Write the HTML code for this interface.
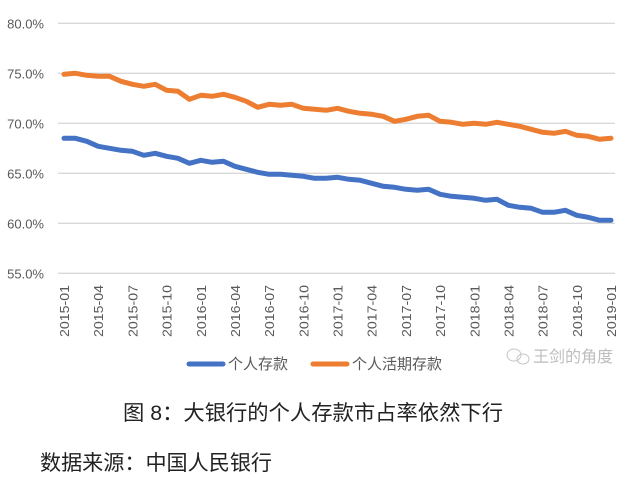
<!DOCTYPE html>
<html><head><meta charset="utf-8"><style>
html,body{margin:0;padding:0;background:#fff;}
svg{display:block;font-family:"Liberation Sans","Noto Sans CJK SC",sans-serif;}
</style></head><body>
<svg id="chart" width="636" height="481" viewBox="0 0 636 481" xmlns="http://www.w3.org/2000/svg">
<g id="grid"></g>
<g id="ylabels"></g>
<g id="xlabels"></g>
<g id="series"></g>
<g>
  <line x1="189" y1="364" x2="223" y2="364" stroke="#4472c4" stroke-width="5" stroke-linecap="round"/>
  <text x="228" y="369" font-size="15" fill="#595959">个人存款</text>
  <line x1="313" y1="364" x2="347" y2="364" stroke="#ed7d31" stroke-width="5" stroke-linecap="round"/>
  <text x="352" y="369" font-size="15" fill="#595959">个人活期存款</text>
</g>
<g opacity="0.55">
  <ellipse cx="514" cy="355" rx="7" ry="6" fill="none" stroke="#999" stroke-width="1"/>
  <ellipse cx="523" cy="359" rx="6" ry="5" fill="none" stroke="#999" stroke-width="1"/>
  <text x="533" y="362" font-size="16" fill="#888">王剑的角度</text>
</g>
<text x="123" y="420" font-size="21" fill="#222" textLength="380" lengthAdjust="spacingAndGlyphs">图 8：大银行的个人存款市占率依然下行</text>
<text x="40" y="470" font-size="21" fill="#222" textLength="232" lengthAdjust="spacingAndGlyphs">数据来源：中国人民银行</text>
</svg>
<script>
const months = [];
for (let y = 2015; y <= 2019; y++) for (let m = 1; m <= 12; m++) { if (y === 2019 && m > 1) break; months.push(y + "-" + String(m).padStart(2, "0")); }
const yTicks = [55, 60, 65, 70, 75, 80];
const personalDeposits = [68.5,68.5,68.2,67.7,67.5,67.3,67.2,66.8,67.0,66.7,66.5,66.0,66.3,66.1,66.2,65.7,65.4,65.1,64.9,64.9,64.8,64.7,64.5,64.5,64.6,64.4,64.3,64.0,63.7,63.6,63.4,63.3,63.4,62.9,62.7,62.6,62.5,62.3,62.4,61.8,61.6,61.5,61.1,61.1,61.3,60.8,60.6,60.3,60.3];
const demandDeposits = [74.9,75.0,74.8,74.7,74.7,74.2,73.9,73.7,73.9,73.3,73.2,72.4,72.8,72.7,72.9,72.6,72.2,71.6,71.9,71.8,71.9,71.5,71.4,71.3,71.5,71.2,71.0,70.9,70.7,70.2,70.4,70.7,70.8,70.2,70.1,69.9,70.0,69.9,70.1,69.9,69.7,69.4,69.1,69.0,69.2,68.8,68.7,68.4,68.5];

const NS = "http://www.w3.org/2000/svg";
const X0 = 64, X1 = 611, Y55 = 273.3, PX_PER = 10;
function xScale(i){ return X0 + (X1 - X0) * i / (months.length - 1); }
function yScale(v){ return Y55 - (v - 55) * PX_PER; }
function mk(tag, attrs, parent){ const e = document.createElementNS(NS, tag); for (const k in attrs) e.setAttribute(k, attrs[k]); parent.appendChild(e); return e; }

const grid = document.getElementById("grid"), yl = document.getElementById("ylabels"), xl = document.getElementById("xlabels"), ser = document.getElementById("series");
yTicks.forEach(t => {
  const l = mk("line", {x1: 58, x2: 615, y1: yScale(t), y2: yScale(t), stroke: "#d9d9d9", "stroke-width": 1.3}, grid);
  
  
  const tx = mk("text", {x: 44, y: yScale(t) + 5, "text-anchor": "end", "font-size": 13, fill: "#595959"}, yl);
  
  
  tx.textContent = t.toFixed(1) + "%";
});
months.forEach((m, i) => {
  if (i % 3 !== 0) return;
  const x = xScale(i) + 5, y = 337;
  const tx = mk("text", {x: x, y: y, transform: "rotate(-90 " + x + " " + y + ")", "font-size": 13, fill: "#595959", textLength: 52, lengthAdjust: "spacingAndGlyphs"}, xl);
  
  
  tx.textContent = m;
});
function drawLine(vals, color, name){
  const d = vals.map((v, i) => (i ? "L" : "M") + xScale(i).toFixed(1) + " " + yScale(v).toFixed(1)).join(" ");
  const p = mk("path", {d: d, fill: "none", stroke: color, "stroke-width": 5, "stroke-linejoin": "round", "stroke-linecap": "round"}, ser);
  
  
}
drawLine(personalDeposits, "#4472c4", "line-personal-deposits");
drawLine(demandDeposits, "#ed7d31", "line-personal-demand-deposits");
</script>
</body></html>
